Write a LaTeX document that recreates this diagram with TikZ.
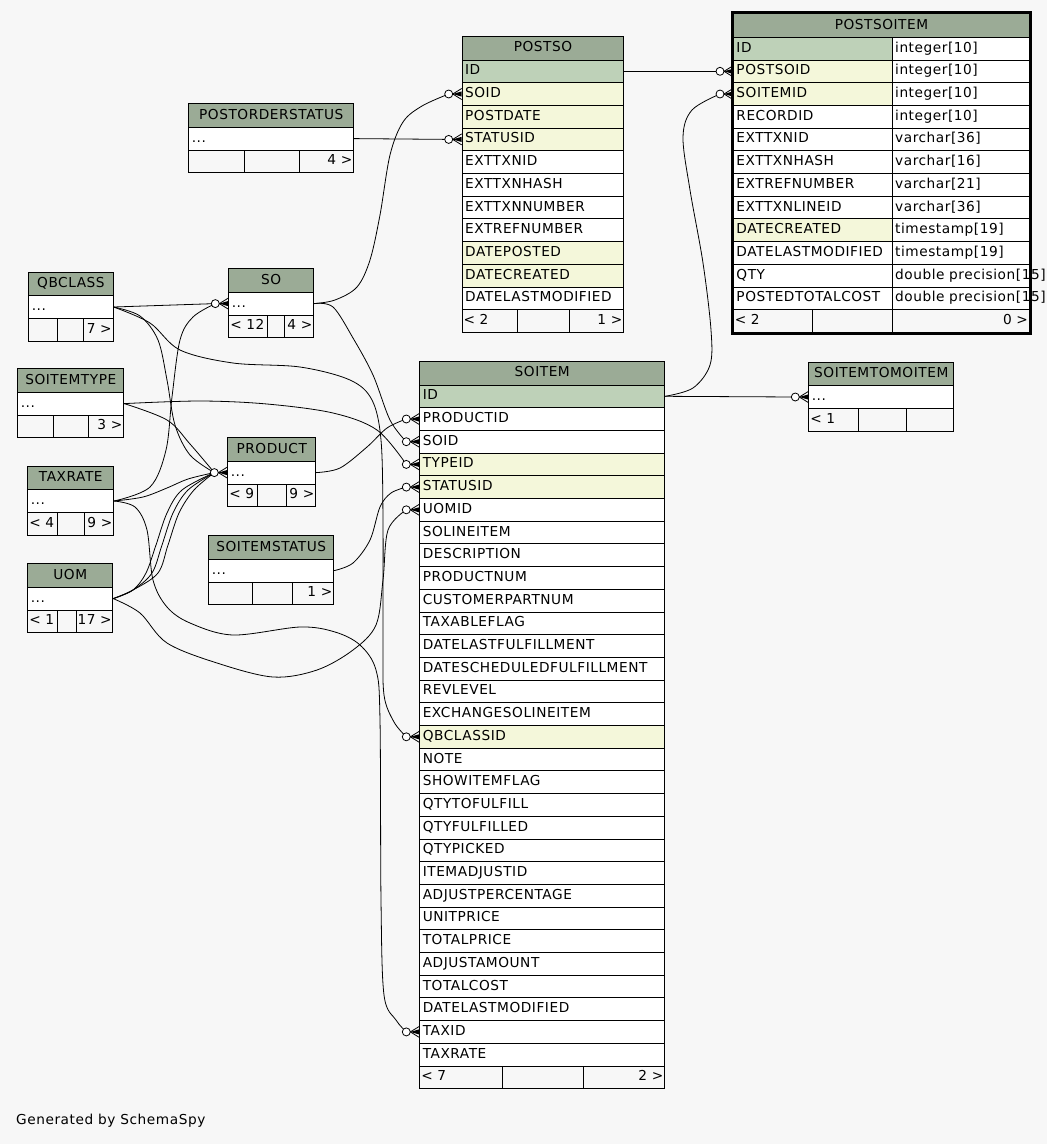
\documentclass[tikz,border=0pt]{standalone}
\usepackage{fontspec}
\setmainfont[LetterSpace=4]{DejaVu Sans}
\definecolor{bgc}{HTML}{F7F7F7}
\definecolor{hdrgreen}{HTML}{9BAB96}
\definecolor{pkgreen}{HTML}{BED1B8}
\definecolor{fkyellow}{HTML}{F4F7DA}

% small table: name, title, x, y, width, divider 1, divider 2, footer left, footer right
\newcommand\minitable[9]{%
  \node[hdr,minimum width=#5] (#1) at (#3,#4) {#2};
  \pgfmathsetmacro\rowy{#4+23.5}
  \pgfmathsetmacro\footy{#4+46.2}
  \pgfmathsetmacro\wrow{#5-6}
  \pgfmathsetmacro\wa{#6-#3-3}
  \pgfmathsetmacro\wb{#7-#6-3}
  \pgfmathsetmacro\wc{#3+#5-#7-3}
  \node[col=white,text width=\wrow pt] (#1-row) at (#3,\rowy) {...};
  \node[foot,text width=\wa pt] (#1-f1) at (#3,\footy) {\mbox{#8}};
  \node[foot,text width=\wb pt] (#1-f2) at (#6,\footy) {};
  \node[foot,text width=\wc pt,align=right] (#1-f3) at (#7,\footy) {\mbox{#9}};}

% circle and crow's foot in front of a child row
\newcommand\fkend[1]{%
  \draw[link,fill=white] ([xshift=-13pt]#1.west) circle[radius=4pt];
  \fill ([xshift=-9pt]#1.west) -- ([yshift=2.6pt]#1.west) -- ([yshift=-2.6pt]#1.west) -- cycle;
  \draw[link] ([xshift=-9pt]#1.west) -- ([yshift=5.5pt]#1.west)
    ([xshift=-9pt]#1.west) -- ([yshift=-5.5pt]#1.west);}

\begin{document}
\begin{tikzpicture}[x=1pt,y=-1pt,font=\fontsize{13.7}{16}\selectfont,
  cell/.style={draw,line width=.9pt,anchor=north west,inner xsep=3pt,inner ysep=0pt,
    minimum height=22.7,text height=10pt,text depth=3pt,align=left},
  hdr/.style={cell,fill=hdrgreen,minimum height=23.5,align=center},
  col/.style={cell,fill=#1},
  foot/.style={cell,fill=bgc,inner xsep=1.5pt},
  link/.style={line width=.8pt}]
  \path[use as bounding box,fill=bgc] (0,0) rectangle (1047,1144);

  % POSTSO
  \node[hdr,minimum width=161.6] (postso) at (461.7,36) {POSTSO};
  \foreach \c/\f [count=\i from 0] in {ID/pkgreen,SOID/fkyellow,POSTDATE/fkyellow,
      STATUSID/fkyellow,EXTTXNID/white,EXTTXNHASH/white,EXTTXNNUMBER/white,
      EXTREFNUMBER/white,DATEPOSTED/fkyellow,DATECREATED/fkyellow,DATELASTMODIFIED/white}
    \node[col=\f,text width=155.6pt] (postso-\c) at (461.7,{59.5+22.7*\i}) {\c};
  \node[foot,text width=52pt] (postso-f1) at (461.7,309.2) {< 2};
  \node[foot,text width=49.6pt] (postso-f2) at (516.7,309.2) {};
  \node[foot,text width=51pt,align=right] (postso-f3) at (569.3,309.2) {1 >};

  % POSTSOITEM
  \node[hdr,minimum width=296] (postsoitem) at (733,13.3) {POSTSOITEM};
  \foreach \c/\t/\f [count=\i from 0] in {ID/integer[10]/pkgreen,
      POSTSOID/integer[10]/fkyellow,SOITEMID/integer[10]/fkyellow,RECORDID/integer[10]/white,
      EXTTXNID/varchar[36]/white,EXTTXNHASH/varchar[16]/white,EXTREFNUMBER/varchar[21]/white,
      EXTTXNLINEID/varchar[36]/white,DATECREATED/timestamp[19]/fkyellow,
      DATELASTMODIFIED/timestamp[19]/white,QTY/double precision[15]/white,
      POSTEDTOTALCOST/double precision[15]/white}{
    \node[col=\f,text width=152.7pt] (postsoitem-\c) at (733,{36.8+22.7*\i}) {\c};
    \node[col=white,text width=131.3pt] (postsoitem-\c-type) at (891.7,{36.8+22.7*\i}) {\mbox{\t}};
  }
  \node[foot,text width=76.3pt] (postsoitem-f1) at (733,309.2) {< 2};
  \node[foot,text width=76.4pt] (postsoitem-f2) at (812.3,309.2) {};
  \node[foot,text width=134.3pt,align=right] (postsoitem-f3) at (891.7,309.2) {0 >};
  \draw[line width=3pt] ([shift={(-1,-1)}]postsoitem.north west)
    rectangle ([shift={(1,1)}]postsoitem-f3.south east);

  % SOITEM
  \node[hdr,minimum width=245] (soitem) at (419.3,361) {SOITEM};
  \foreach \c/\f [count=\i from 0] in {ID/pkgreen,PRODUCTID/white,SOID/white,
      TYPEID/fkyellow,STATUSID/fkyellow,UOMID/white,SOLINEITEM/white,DESCRIPTION/white,
      PRODUCTNUM/white,CUSTOMERPARTNUM/white,TAXABLEFLAG/white,DATELASTFULFILLMENT/white,
      DATESCHEDULEDFULFILLMENT/white,REVLEVEL/white,EXCHANGESOLINEITEM/white,
      QBCLASSID/fkyellow,NOTE/white,SHOWITEMFLAG/white,QTYTOFULFILL/white,
      QTYFULFILLED/white,QTYPICKED/white,ITEMADJUSTID/white,ADJUSTPERCENTAGE/white,
      UNITPRICE/white,TOTALPRICE/white,ADJUSTAMOUNT/white,TOTALCOST/white,
      DATELASTMODIFIED/white,TAXID/white,TAXRATE/white}
    \node[col=\f,text width=239pt] (soitem-\c) at (419.3,{384.5+22.7*\i}) {\c};
  \node[foot,text width=79.4pt] (soitem-f1) at (419.3,1065.5) {< 7};
  \node[foot,text width=78.6pt] (soitem-f2) at (501.7,1065.5) {};
  \node[foot,text width=78pt,align=right] (soitem-f3) at (583.3,1065.5) {2 >};

  % small tables
  \minitable{postorderstatus}{POSTORDERSTATUS}{188.3}{103.3}{165}{244.3}{299.3}{}{4 >}
  \minitable{qbclass}{QBCLASS}{28.3}{271.7}{84.4}{56.7}{83.3}{}{7 >}
  \minitable{so}{SO}{228.3}{268.3}{85}{267.3}{284}{< 12}{4 >}
  \minitable{soitemtype}{SOITEMTYPE}{17.3}{368.3}{106}{53.3}{88.3}{}{3 >}
  \minitable{product}{PRODUCT}{227.3}{437.3}{88}{257.3}{285.7}{< 9}{9 >}
  \minitable{taxrate}{TAXRATE}{27.3}{465.7}{86}{57.3}{84.3}{< 4}{9 >}
  \minitable{soitemstatus}{SOITEMSTATUS}{208.3}{535.3}{125}{251.7}{292.3}{}{1 >}
  \minitable{uom}{UOM}{27.3}{563.3}{85}{57.3}{75.7}{< 1}{17 >}
  \minitable{soitemtomoitem}{SOITEMTOMOITEM}{808.3}{361.7}{145}{857.7}{905.7}{< 1}{}

  % relations
  \draw[link] (postso-ID.east) -- ([xshift=-13pt]postsoitem-POSTSOID.west);
  \draw[link] plot[smooth,tension=.55] coordinates {(soitem-ID.east) (693,388) (710,365)
    (711,330) (703,263) (690,190) (683,137) (692,110) ([xshift=-13pt]postsoitem-SOITEMID.west)};
  \draw[link] (soitem-ID.east) -- ([xshift=-13pt]soitemtomoitem-row.west);
  \draw[link] plot[smooth,tension=.55] coordinates {(so-row.east) (335,300) (357,287)
    (370,260) (380,215) (390,155) (403,122) (422,106) ([xshift=-13pt]postso-SOID.west)};
  \draw[link] (postorderstatus-row.east) -- ([xshift=-13pt]postso-STATUSID.west);
  \draw[link] (qbclass-row.east) -- ([xshift=-13pt]so-row.west);
  \draw[link] plot[smooth,tension=.55] coordinates {(qbclass-row.east) (140,316) (158,340)
    (167,380) (175,425) (190,455) ([xshift=-13pt]product-row.west)};
  \draw[link] plot[smooth,tension=.55] coordinates {(qbclass-row.east) (150,323) (180,350)
    (233,363) (300,367) (350,380) (372,400) (381,440) (383,520) (383,640) (384,695)
    (394,722) ([xshift=-13pt]soitem-QBCLASSID.west)};
  \draw[link] plot[smooth,tension=.55] coordinates {(soitemtype-row.east) (200,401)
    (267,404) (333,413) (377,430) ([xshift=-13pt]soitem-TYPEID.west)};
  \draw[link] plot[smooth,tension=.55] coordinates {(soitemtype-row.east) (167,420)
    (190,444) ([xshift=-13pt]product-row.west)};
  \draw[link] plot[smooth,tension=.55] coordinates {(so-row.east) (333,307) (353,338)
    (373,375) (390,420) ([xshift=-13pt]soitem-SOID.west)};
  \draw[link] plot[smooth,tension=.55] coordinates {(product-row.east) (340,468) (367,447)
    (387,428) ([xshift=-13pt]soitem-PRODUCTID.west)};
  \draw[link] plot[smooth,tension=.55] coordinates {(taxrate-row.east) (150,487) (166,450)
    (172,397) (180,340) (193,317) ([xshift=-13pt]so-row.west)};
  \draw[link] plot[smooth,tension=.55] coordinates {(taxrate-row.east) (143,497) (167,488)
    (188,479) ([xshift=-13pt]product-row.west)};
  \draw[link] plot[smooth,tension=.55] coordinates {(taxrate-row.east) (135,507) (147,530)
    (153,580) (167,607) (190,623) (233,635) (300,627) (335,632) (360,645) (376,670)
    (380,720) (381,900) (384,995) (396,1020) ([xshift=-13pt]soitem-TAXID.west)};
  \foreach \d in {-6,0,6}
    \draw[link] plot[smooth,tension=.55] coordinates {(uom-row.east) (133,590) ({152+\d},573)
      ({162+\d},545) ({173+\d},513) ({188+\d},490) ([xshift=-13pt]product-row.west)};
  \draw[link] plot[smooth,tension=.55] coordinates {(uom-row.east) (140,613) (167,643)
    (217,663) (273,677) (317,670) (353,650) (376,625) (383,580) (388,530)
    ([xshift=-13pt]soitem-UOMID.west)};
  \draw[link] plot[smooth,tension=.55] coordinates {(soitemstatus-row.east) (353,563)
    (370,540) (380,507) (391,493) ([xshift=-13pt]soitem-STATUSID.west)};

  \foreach \n in {postsoitem-POSTSOID,postsoitem-SOITEMID,soitemtomoitem-row,postso-SOID,
      postso-STATUSID,so-row,product-row,soitem-PRODUCTID,soitem-SOID,soitem-TYPEID,
      soitem-STATUSID,soitem-UOMID,soitem-QBCLASSID,soitem-TAXID}{
    \fkend{\n}
  }

  \node[anchor=west,inner xsep=0pt] (credit) at (16,1121) {Generated by SchemaSpy};
\end{tikzpicture}
\end{document}
